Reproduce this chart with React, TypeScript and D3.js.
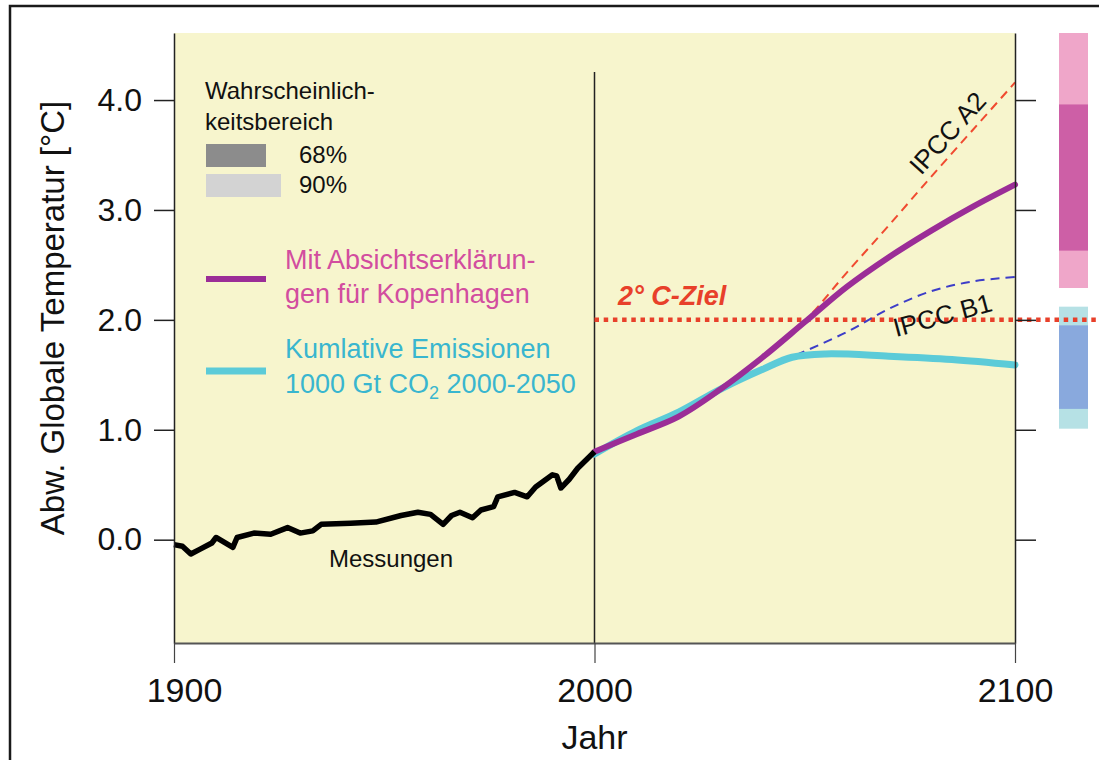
import React, { useEffect, useRef } from 'react';
import * as d3 from 'd3';

// Messungen (beobachtete Abweichung, °C)
const messungen: [number, number][] = [
  [1900, -0.045], [1902, -0.06], [1904, -0.13], [1906, -0.09], [1909, -0.03],
  [1910, 0.02], [1914, -0.07], [1915, 0.02], [1919, 0.06], [1923, 0.05],
  [1927, 0.11], [1930, 0.06], [1933, 0.08], [1935, 0.14], [1942, 0.15],
  [1948, 0.16], [1954, 0.22], [1958, 0.25], [1961, 0.23], [1964, 0.14],
  [1966, 0.22], [1968, 0.25], [1971, 0.2], [1973, 0.27], [1976, 0.3],
  [1977, 0.39], [1981, 0.43], [1984, 0.39], [1986, 0.48], [1990, 0.59],
  [1991, 0.58], [1992, 0.47], [1994, 0.55], [1996, 0.65], [2000, 0.8]
];

// Mit Absichtserklärungen für Kopenhagen
const kopenhagen: [number, number][] = [
  [2000, 0.8], [2010, 0.96], [2020, 1.12], [2030, 1.37], [2040, 1.66],
  [2050, 1.98], [2060, 2.3], [2070, 2.57], [2080, 2.81], [2090, 3.03], [2100, 3.23]
];

// Kumulative Emissionen 1000 Gt CO2
const kumulativ: [number, number][] = [
  [2000, 0.78], [2010, 0.99], [2020, 1.16], [2030, 1.37], [2040, 1.55],
  [2047, 1.66], [2055, 1.69], [2070, 1.67], [2085, 1.64], [2100, 1.59]
];

const ipccA2: [number, number][] = [
  [2030, 1.37], [2040, 1.66], [2050, 1.99], [2060, 2.43], [2070, 2.86],
  [2080, 3.3], [2090, 3.73], [2100, 4.16]
];

const ipccB1: [number, number][] = [
  [2048, 1.68], [2060, 1.89], [2070, 2.1], [2080, 2.26], [2090, 2.35], [2100, 2.39]
];

const zielWert = 2.0;
const xTicks = [1900, 2000, 2100];
const yTicks = [0, 1, 2, 3, 4];

// Wahrscheinlichkeitsbereiche 2100 [unten, oben]
const kopenhagen90 = [2.29, 4.61];
const kopenhagen68 = [2.63, 3.96];
const kumulativ90 = [1.01, 2.12];
const kumulativ68 = [1.19, 1.95];

const font = '"Liberation Sans", Arial, Helvetica, sans-serif';

function App() {
  const ref = useRef<SVGSVGElement>(null);

  useEffect(() => {
    drawChart();
  }, []);

  function drawChart() {
    const svg = d3.select(ref.current);
    svg.selectAll('*').remove();

    const left = 174, right = 1015, top = 33, bottom = 643;
    const x = d3.scaleLinear().domain([1900, 2100]).range([left, right]);
    const y = d3.scaleLinear().domain([-0.94, 4.61]).range([bottom, top]);

    // outer frame
    svg.append('rect')
      .attr('x', 10).attr('y', 6).attr('width', 1200).attr('height', 800)
      .attr('fill', '#fff').attr('stroke', '#1a1a1a').attr('stroke-width', 2.5);

    // plot background
    svg.append('rect')
      .attr('x', left).attr('y', top).attr('width', right - left).attr('height', bottom - top)
      .attr('fill', '#f7f5cd');

    // range bars on the right
    const barX = 1059, barW = 29;
    const bars = [
      { r: kopenhagen90, c: '#efa6c9' },
      { r: kopenhagen68, c: '#cd5fa6' },
      { r: kumulativ90, c: '#b6e1e5' },
      { r: kumulativ68, c: '#89a9dd' }
    ];
    svg.selectAll('rect.bereich')
      .data(bars)
      .enter()
      .append('rect')
      .attr('class', 'bereich')
      .attr('x', barX).attr('width', barW)
      .attr('y', d => y(d.r[1]))
      .attr('height', d => y(d.r[0]) - y(d.r[1]))
      .attr('fill', d => d.c);

    // 2000 divider
    svg.append('line')
      .attr('x1', x(2000)).attr('x2', x(2000))
      .attr('y1', 72).attr('y2', bottom)
      .attr('stroke', '#222').attr('stroke-width', 1.5);

    // 2°C target
    svg.append('line')
      .attr('x1', x(2000)).attr('x2', 1099)
      .attr('y1', y(zielWert)).attr('y2', y(zielWert))
      .attr('stroke', '#e8402a').attr('stroke-width', 4.5)
      .attr('stroke-dasharray', '4.5,4.7');

    const line = d3.line<[number, number]>()
      .x(d => x(d[0]))
      .y(d => y(d[1]))
      .curve(d3.curveCatmullRom.alpha(0.5));

    svg.append('path').datum(ipccA2)
      .attr('d', line).attr('fill', 'none')
      .attr('stroke', '#f04a30').attr('stroke-width', 2)
      .attr('stroke-dasharray', '9,6');

    svg.append('path').datum(ipccB1)
      .attr('d', line).attr('fill', 'none')
      .attr('stroke', '#3d3dc8').attr('stroke-width', 2)
      .attr('stroke-dasharray', '9,6');

    svg.append('path').datum(kumulativ)
      .attr('d', line).attr('fill', 'none')
      .attr('stroke', '#5ccbd8').attr('stroke-width', 7)
      .attr('stroke-linecap', 'round');

    svg.append('path').datum(kopenhagen)
      .attr('d', line).attr('fill', 'none')
      .attr('stroke', '#9b2d97').attr('stroke-width', 6)
      .attr('stroke-linecap', 'round');

    svg.append('path').datum(messungen)
      .attr('d', d3.line<[number, number]>().x(d => x(d[0])).y(d => y(d[1])))
      .attr('fill', 'none')
      .attr('stroke', '#000').attr('stroke-width', 5.5)
      .attr('stroke-linejoin', 'round');

    // axes
    const yAxis = svg.append('g')
      .attr('transform', `translate(${left},0)`)
      .call(d3.axisLeft(y).tickValues(yTicks).tickSize(20).tickSizeOuter(0)
        .tickPadding(12).tickFormat(d3.format('.1f')));
    yAxis.select('.domain').attr('stroke', '#222').attr('stroke-width', 1.5);
    yAxis.selectAll('.tick line').attr('stroke', '#222').attr('stroke-width', 1.5);
    yAxis.selectAll('text').attr('font-family', font).attr('font-size', 32).attr('fill', '#111');

    const yAxisR = svg.append('g')
      .attr('transform', `translate(${right},0)`)
      .call(d3.axisRight(y).tickValues(yTicks).tickSize(21).tickSizeOuter(0).tickFormat(() => ''));
    yAxisR.select('.domain').attr('stroke', '#222').attr('stroke-width', 1.5);
    yAxisR.selectAll('.tick line').attr('stroke', '#222').attr('stroke-width', 1.5);

    const xAxis = svg.append('g')
      .attr('transform', `translate(0,${bottom})`)
      .call(d3.axisBottom(x).tickValues(xTicks).tickSize(20).tickSizeOuter(0)
        .tickPadding(15).tickFormat(d3.format('d')));
    xAxis.select('.domain').attr('stroke', '#555').attr('stroke-width', 2);
    xAxis.selectAll('.tick line').attr('stroke', '#444').attr('stroke-width', 1.2);
    xAxis.selectAll('text').attr('font-family', font).attr('font-size', 34).attr('fill', '#111')
      .attr('dx', (d: any) => (d === 1900 ? 10 : 0));

    // axis titles
    svg.append('text')
      .attr('transform', 'translate(64,318) rotate(-90)')
      .attr('text-anchor', 'middle')
      .attr('font-family', font).attr('font-size', 33).attr('fill', '#111')
      .text('Abw. Globale Temperatur [°C]');

    svg.append('text')
      .attr('x', x(2000)).attr('y', 749)
      .attr('text-anchor', 'middle')
      .attr('font-family', font).attr('font-size', 34).attr('fill', '#111')
      .text('Jahr');

    // legend
    const leg = svg.append('g').attr('font-family', font);
    leg.append('text').attr('x', 205).attr('y', 99).attr('font-size', 24).attr('fill', '#111')
      .text('Wahrscheinlich-');
    leg.append('text').attr('x', 205).attr('y', 130).attr('font-size', 24).attr('fill', '#111')
      .text('keitsbereich');
    leg.append('rect').attr('x', 206).attr('y', 144).attr('width', 60).attr('height', 23).attr('fill', '#8c8c8c');
    leg.append('rect').attr('x', 206).attr('y', 174).attr('width', 75).attr('height', 23).attr('fill', '#d3d3d3');
    leg.append('text').attr('x', 299).attr('y', 163).attr('font-size', 24).attr('fill', '#111').text('68%');
    leg.append('text').attr('x', 299).attr('y', 193).attr('font-size', 24).attr('fill', '#111').text('90%');

    leg.append('line').attr('x1', 206).attr('x2', 266).attr('y1', 279).attr('y2', 279)
      .attr('stroke', '#9b2d97').attr('stroke-width', 6);
    leg.append('text').attr('x', 285).attr('y', 269).attr('font-size', 27).attr('fill', '#d24d9f')
      .text('Mit Absichtserklärun-');
    leg.append('text').attr('x', 285).attr('y', 303).attr('font-size', 27).attr('fill', '#d24d9f')
      .text('gen für Kopenhagen');

    leg.append('line').attr('x1', 206).attr('x2', 266).attr('y1', 371).attr('y2', 371)
      .attr('stroke', '#5ccbd8').attr('stroke-width', 7);
    leg.append('text').attr('x', 285).attr('y', 358).attr('font-size', 27).attr('fill', '#39b6cf')
      .text('Kumlative Emissionen');
    const t = leg.append('text').attr('x', 285).attr('y', 393).attr('font-size', 27).attr('fill', '#39b6cf');
    t.append('tspan').text('1000 Gt CO');
    t.append('tspan').attr('font-size', 18).attr('dy', 6).text('2');
    t.append('tspan').attr('dy', -6).text(' 2000-2050');

    // annotations
    svg.append('text')
      .attr('x', 618).attr('y', 305)
      .attr('font-family', font).attr('font-size', 27)
      .attr('font-weight', 'bold').attr('font-style', 'italic')
      .attr('fill', '#e8402a')
      .text('2° C-Ziel');

    svg.append('text')
      .attr('transform', 'translate(921,176) rotate(-48)')
      .attr('font-family', font).attr('font-size', 26).attr('fill', '#111')
      .text('IPCC A2');

    svg.append('text')
      .attr('transform', 'translate(896,337) rotate(-15)')
      .attr('font-family', font).attr('font-size', 26).attr('fill', '#111')
      .text('IPCC B1');

    svg.append('text')
      .attr('x', 391).attr('y', 567)
      .attr('text-anchor', 'middle')
      .attr('font-family', font).attr('font-size', 24).attr('fill', '#111')
      .text('Messungen');
  }

  return (
    <svg
      ref={ref}
      width={1099}
      height={760}
      style={{ position: 'absolute', left: 0, top: 0, background: '#fff' }}
    />
  );
}

export default App;
